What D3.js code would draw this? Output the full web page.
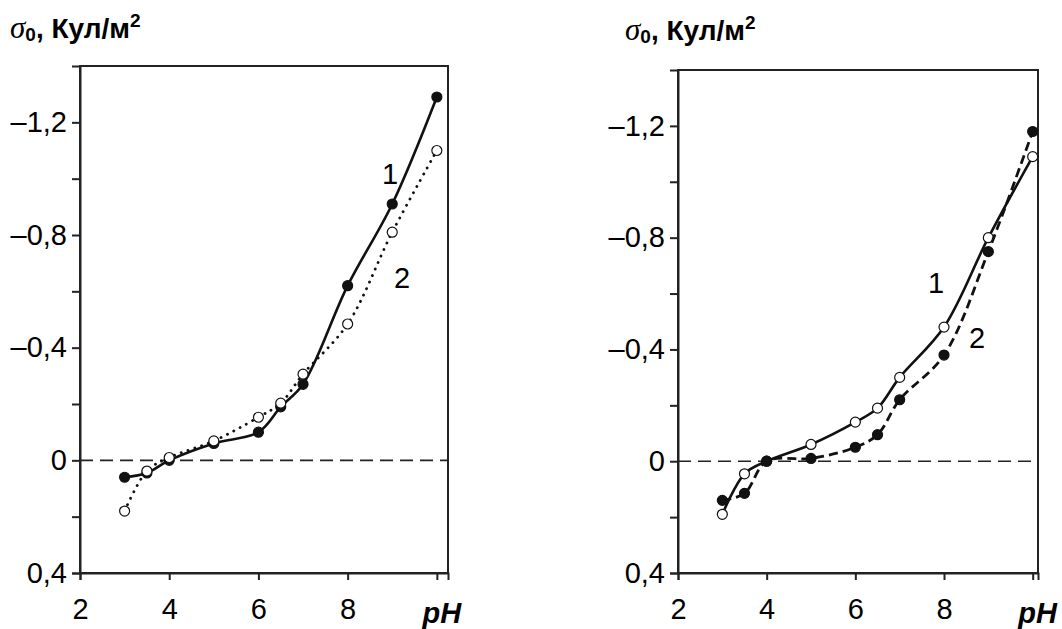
<!DOCTYPE html>
<html>
<head>
<meta charset="utf-8">
<script src="https://cdn.jsdelivr.net/npm/d3@7"></script>
<style>
  body { margin: 0; background: #fff; }
  svg { display: block; font-family: "Liberation Sans", Arial, sans-serif; }
</style>
</head>
<body>
<div id="chart"></div>
<script>
// pH values and surface charge (sign as on the axis: negative up)
const leftPH = [3, 3.5, 4, 5, 6, 6.5, 7, 8, 9, 10];
const leftCurve1 = [0.06, 0.045, 0.0, -0.06, -0.10, -0.19, -0.27, -0.62, -0.91, -1.29];
const leftCurve2 = [0.18, 0.038, -0.01, -0.069, -0.153, -0.203, -0.306, -0.484, -0.81, -1.10];

const rightPH = [3, 3.5, 4, 5, 6, 6.5, 7, 8, 9, 10];
const rightCurve1 = [0.19, 0.045, 0.0, -0.06, -0.14, -0.19, -0.30, -0.48, -0.80, -1.09];
const rightCurve2 = [0.14, 0.115, 0.0, -0.01, -0.05, -0.095, -0.22, -0.38, -0.75, -1.18];

const yTicks = [-1.2, -1.0, -0.8, -0.6, -0.4, -0.2, 0, 0.2, 0.4];
const yLabelled = [-1.2, -0.8, -0.4, 0, 0.4];
const xTicks = [2, 4, 6, 8, 10];

const W = 1062, H = 629;
const svg = d3.select("#chart").append("svg")
  .attr("width", W)
  .attr("height", H);

const fmtY = d => {
  if (!yLabelled.some(v => Math.abs(v - d) < 1e-9)) return "";
  if (d === 0) return "0";
  return (d < 0 ? "\u2013" : "") + Math.abs(d).toFixed(1).replace(".", ",");
};

function panel(opt) {
  const x = d3.scaleLinear().domain([2, opt.xMax]).range([opt.left, opt.right]);
  const y = d3.scaleLinear().domain([-1.4, 0.4]).range([opt.top, opt.bottom]);
  const g = svg.append("g");

  // frame
  g.append("rect")
    .attr("x", opt.left).attr("y", opt.top)
    .attr("width", opt.right - opt.left).attr("height", opt.bottom - opt.top)
    .attr("fill", "none").attr("stroke", "#222").attr("stroke-width", 2);

  // zero line
  g.append("line")
    .attr("x1", x(2)).attr("x2", opt.right)
    .attr("y1", y(0)).attr("y2", y(0))
    .attr("stroke", "#222").attr("stroke-width", 1.6)
    .attr("stroke-dasharray", "13,7");

  const yAxis = g.append("g")
    .attr("transform", `translate(${opt.left},0)`)
    .call(d3.axisLeft(y).tickValues(yTicks).tickFormat(fmtY).tickSize(8).tickPadding(5));
  const xAxis = g.append("g")
    .attr("transform", `translate(0,${opt.bottom})`)
    .call(d3.axisBottom(x).tickValues(xTicks).tickFormat(d => d === 10 ? "" : d).tickSize(7).tickPadding(14));
  [yAxis, xAxis].forEach(a => {
    a.select(".domain").attr("stroke", "#222").attr("stroke-width", 2);
    a.selectAll(".tick line").attr("stroke", "#222").attr("stroke-width", 2);
    a.selectAll("text").attr("fill", "#000").style("font-size", "29px");
  });
  xAxis.selectAll("text").attr("dy", "0.85em");

  g.append("text")
    .attr("x", x(10) + 5).attr("y", 623)
    .attr("text-anchor", "middle")
    .style("font-size", "29px").style("font-weight", "bold").style("font-style", "italic")
    .text("pH");

  // title
  const t = g.append("text")
    .attr("x", opt.titleX).attr("y", opt.titleY)
    .style("font-size", "28px").style("font-weight", "bold");
  t.append("tspan").style("font-family", "'Liberation Serif', serif")
    .style("font-style", "italic").style("font-weight", "normal").style("font-size", "31px").text("\u03c3");
  t.append("tspan").attr("dy", 3).style("font-size", "19px").text("0");
  t.append("tspan").attr("dy", -3).text(", Кул/м");
  t.append("tspan").attr("dy", -11).style("font-size", "19px").text("2");

  const line = d3.line()
    .x(d => x(d[0])).y(d => y(d[1]))
    .curve(d3.curveCatmullRom.alpha(0.5));

  opt.series.forEach(s => {
    const pts = s.xs.map((v, i) => [v, s.ys[i]]);
    g.append("path")
      .datum(pts)
      .attr("d", line)
      .attr("fill", "none")
      .attr("stroke", "#111")
      .attr("stroke-width", s.width)
      .attr("stroke-dasharray", s.dash)
      .attr("stroke-linecap", s.cap || "butt");
    g.append("g").selectAll("circle")
      .data(pts)
      .join("circle")
      .attr("cx", d => x(d[0])).attr("cy", d => y(d[1]))
      .attr("r", 5)
      .attr("fill", s.filled ? "#111" : "#fff")
      .attr("stroke", "#111")
      .attr("stroke-width", 1.2);
  });

  opt.labels.forEach(l => {
    g.append("text")
      .attr("x", l.x).attr("y", l.y)
      .attr("text-anchor", "middle")
      .style("font-size", "29px")
      .text(l.text);
  });
}

panel({
  left: 80, right: 448, top: 66, bottom: 573, xMax: 10.25,
  titleX: 10, titleY: 38,
  series: [
    { xs: leftPH, ys: leftCurve1, filled: true, width: 2.6, dash: null },
    { xs: leftPH, ys: leftCurve2, filled: false, width: 2.8, dash: "0.1,7", cap: "round" }
  ],
  labels: [{ text: "1", x: 390, y: 184 }, { text: "2", x: 402, y: 288 }]
});

panel({
  left: 678, right: 1038, top: 70, bottom: 573, xMax: 10.12,
  titleX: 625, titleY: 40,
  series: [
    { xs: rightPH, ys: rightCurve1, filled: false, width: 2.6, dash: null },
    { xs: rightPH, ys: rightCurve2, filled: true, width: 2.8, dash: "9,5" }
  ],
  labels: [{ text: "1", x: 936, y: 293 }, { text: "2", x: 977, y: 348 }]
});
</script>
</body>
</html>
